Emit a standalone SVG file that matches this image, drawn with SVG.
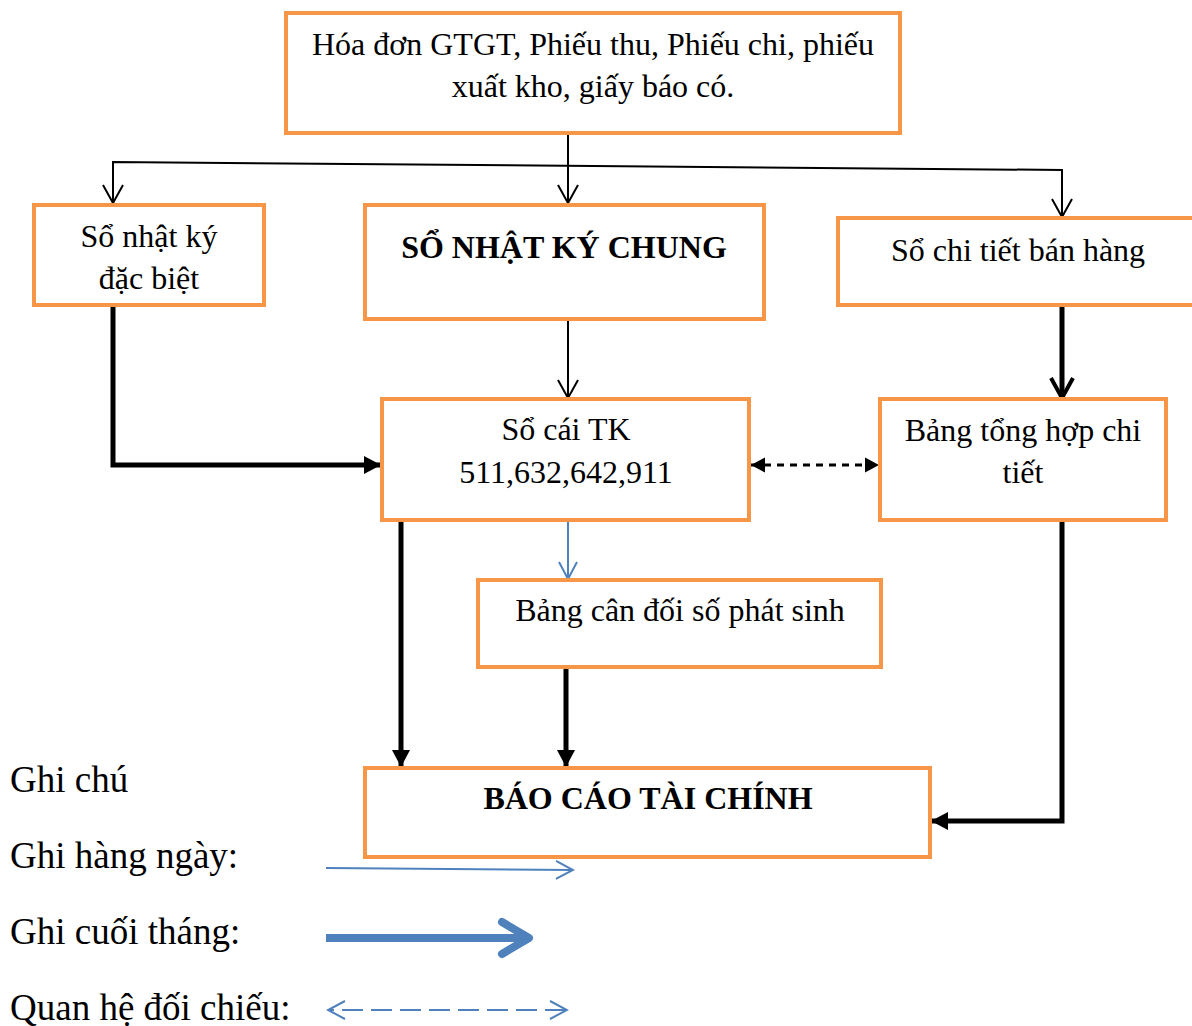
<svg xmlns="http://www.w3.org/2000/svg" width="1192" height="1026" viewBox="0 0 1192 1026">
  <style>
    .box { fill: #ffffff; stroke: #F79646; stroke-width: 4; }
    .t { font-family: "Liberation Serif", "Times New Roman", serif; font-size: 32px; fill: #000; text-anchor: middle; }
    .b { font-weight: bold; }
    .leg { font-family: "Liberation Serif", "Times New Roman", serif; font-size: 37px; fill: #000; }
    .thin { fill: none; stroke: #000; stroke-width: 2; }
    .thick { fill: none; stroke: #000; stroke-width: 5; }
    .dash { fill: none; stroke: #000; stroke-width: 3; stroke-dasharray: 7 6; }
    .blue { fill: none; stroke: #4F81BD; stroke-width: 2; }
  </style>
  <defs>
    <marker id="openThin" viewBox="-22 -12 24 24" refX="0" refY="0" markerWidth="24" markerHeight="24" markerUnits="userSpaceOnUse" orient="auto">
      <path d="M-18,-10 L0,0 L-18,10" fill="none" stroke="#000" stroke-width="2"/>
    </marker>
    <marker id="openThick" viewBox="-24 -14 28 28" refX="0" refY="0" markerWidth="28" markerHeight="28" markerUnits="userSpaceOnUse" orient="auto">
      <path d="M-20,-11 L0,0 L-20,11" fill="none" stroke="#000" stroke-width="4"/>
    </marker>
    <marker id="solid" viewBox="-18 -10 20 20" refX="0" refY="0" markerWidth="20" markerHeight="20" markerUnits="userSpaceOnUse" orient="auto">
      <path d="M-17,-9 L0,0 L-17,9 Z" fill="#000"/>
    </marker>
    <marker id="solidSmall" viewBox="-16 -9 18 18" refX="0" refY="0" markerWidth="18" markerHeight="18" markerUnits="userSpaceOnUse" orient="auto-start-reverse">
      <path d="M-14,-7.5 L0,0 L-14,7.5 Z" fill="#000"/>
    </marker>
    <marker id="openBlue" viewBox="-22 -12 24 24" refX="0" refY="0" markerWidth="24" markerHeight="24" markerUnits="userSpaceOnUse" orient="auto-start-reverse">
      <path d="M-17,-9 L0,0 L-17,9" fill="none" stroke="#4F81BD" stroke-width="2"/>
    </marker>
  </defs>

  <!-- connectors -->
  <g id="connectors">
    <!-- source documents fan out to the three journals -->
    <line class="thin" x1="568" y1="133" x2="568" y2="203" marker-end="url(#openThin)"/>
    <polyline class="thin" points="113,203 113,162 1062,170 1062,217" marker-end="url(#openThin)"/>
    <line class="thin" x1="113" y1="162" x2="113" y2="203" marker-end="url(#openThin)"/>
    <!-- journal to ledger -->
    <line class="thin" x1="568" y1="319" x2="568" y2="398" marker-end="url(#openThin)"/>
    <!-- sales detail book to summary table -->
    <line class="thick" x1="1062" y1="305" x2="1062" y2="398" stroke-width="4" marker-end="url(#openThick)"/>
    <!-- special journal to ledger -->
    <polyline class="thick" points="113,305 113,465 381,465" marker-end="url(#solid)"/>
    <!-- ledger <-> summary table reconciliation -->
    <line class="dash" x1="751" y1="465" x2="879" y2="465" marker-start="url(#solidSmall)" marker-end="url(#solidSmall)"/>
    <!-- ledger to trial balance -->
    <line class="blue" x1="568" y1="520" x2="568" y2="579" stroke-width="1.5" marker-end="url(#openBlue)"/>
    <!-- month-end postings to financial statements -->
    <line class="thick" x1="401" y1="520" x2="401" y2="767" marker-end="url(#solid)"/>
    <line class="thick" x1="566" y1="667" x2="566" y2="767" marker-end="url(#solid)"/>
    <polyline class="thick" points="1062,520 1062,821 931,821" marker-end="url(#solid)"/>
  </g>

  <!-- nodes -->
  <g id="chung-tu">
    <rect class="box" x="286" y="13" width="614" height="120"/>
    <text class="t" x="593" y="55">Hóa đơn GTGT, Phiếu thu, Phiếu chi, phiếu</text>
    <text class="t" x="593" y="97">xuất kho, giấy báo có.</text>
  </g>
  <g id="so-nhat-ky-dac-biet">
    <rect class="box" x="34" y="205" width="230" height="100"/>
    <text class="t" x="149" y="247">Sổ nhật ký</text>
    <text class="t" x="149" y="289">đặc biệt</text>
  </g>
  <g id="so-nhat-ky-chung">
    <rect class="box" x="365" y="205" width="399" height="114"/>
    <text class="t b" x="564" y="258">SỔ NHẬT KÝ CHUNG</text>
  </g>
  <g id="so-chi-tiet-ban-hang">
    <rect class="box" x="838" y="218" width="370" height="87"/>
    <text class="t" x="1018" y="261">Sổ chi tiết bán hàng</text>
  </g>
  <g id="so-cai">
    <rect class="box" x="382" y="399" width="367" height="121"/>
    <text class="t" x="566" y="440">Sổ cái TK</text>
    <text class="t" x="566" y="483">511,632,642,911</text>
  </g>
  <g id="bang-tong-hop-chi-tiet">
    <rect class="box" x="880" y="399" width="286" height="121"/>
    <text class="t" x="1023" y="441">Bảng tổng hợp chi</text>
    <text class="t" x="1023" y="483">tiết</text>
  </g>
  <g id="bang-can-doi">
    <rect class="box" x="478" y="580" width="403" height="87"/>
    <text class="t" x="680" y="621">Bảng cân đối số phát sinh</text>
  </g>
  <g id="bao-cao-tai-chinh">
    <rect class="box" x="365" y="768" width="565" height="89"/>
    <text class="t b" x="648" y="809">BÁO CÁO TÀI CHÍNH</text>
  </g>

  <!-- legend -->
  <g id="legend">
    <text class="leg" x="10" y="792">Ghi chú</text>
    <text class="leg" x="10" y="868">Ghi hàng ngày:</text>
    <text class="leg" x="10" y="944">Ghi cuối tháng:</text>
    <text class="leg" x="10" y="1020">Quan hệ đối chiếu:</text>
    <line x1="326" y1="868" x2="573" y2="870" stroke="#4F81BD" stroke-width="2" marker-end="url(#openBlue)"/>
    <line x1="326" y1="938" x2="528" y2="938" stroke="#4F81BD" stroke-width="8"/>
    <path d="M502,922 L529,938 L502,954" fill="none" stroke="#4F81BD" stroke-width="8" stroke-linecap="round" stroke-linejoin="round"/>
    <line x1="328" y1="1010" x2="567" y2="1010" stroke="#4F81BD" stroke-width="2" stroke-dasharray="21 8" stroke-dashoffset="-14" marker-start="url(#openBlue)" marker-end="url(#openBlue)"/>
  </g>
</svg>
